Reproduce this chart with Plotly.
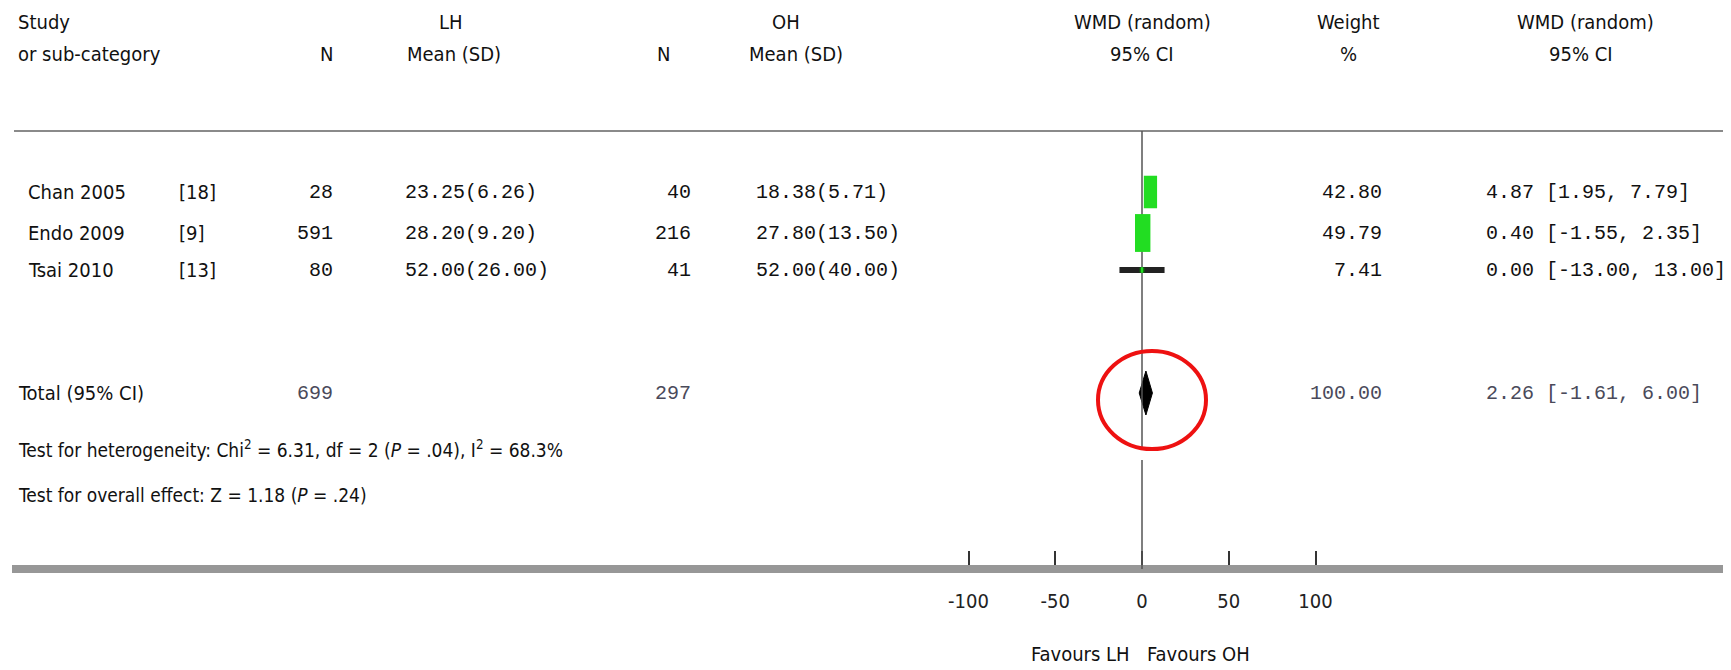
import plotly.graph_objects as go

# ---------------- data ----------------
studies = ["Chan 2005", "Endo 2009", "Tsai 2010"]
refs = ["[18]", "[9]", "[13]"]
lh_n = [28, 591, 80]
lh_mean_sd = ["23.25(6.26)", "28.20(9.20)", "52.00(26.00)"]
oh_n = [40, 216, 41]
oh_mean_sd = ["18.38(5.71)", "27.80(13.50)", "52.00(40.00)"]
wmd = [4.87, 0.40, 0.00]
ci_low = [1.95, -1.55, -13.00]
ci_high = [7.79, 2.35, 13.00]
weights = [42.80, 49.79, 7.41]
total_lh_n = 699
total_oh_n = 297
total_wmd = 2.26
total_low = -1.61
total_high = 6.00
total_weight = 100.00
tick_vals = [-100, -50, 0, 50, 100]
tick_text = ["-100", "-50", "0", "50", "100"]

# ---------------- layout helpers ----------------
W, H = 1731, 670
PX0 = 1134.0      # pixel of WMD = 0
PXU = 1.735       # pixels per WMD unit
D0 = 4.0          # axis domain start pixel
xr = [(D0 - PX0) / PXU, (W - PX0) / PXU]

row_y = [184, 225, 262]
total_y = 385
axis_y = 561

NARROW = "Liberation Sans Narrow, Arial Narrow, DejaVu Sans Condensed, Liberation Sans, sans-serif"
MONO = "Liberation Mono, DejaVu Sans Mono, monospace"
TXT = "#111111"
GREY = "#4a4a5a"

fig = go.Figure()
ann = []
shapes = []


def txt(x, y, s, anchor="left", font=NARROW, size=20, color=TXT):
    ann.append(dict(x=x / W, y=y, xref="paper", yref="y", text=s, showarrow=False,
                    xanchor=anchor, yanchor="middle",
                    font=dict(family=font, size=size, color=color)))


# headers
HY1, HY2 = 14, 46
txt(8, HY1, "Study")
txt(8, HY2, "or sub-category")
txt(443, HY1, "LH", "center")
txt(318, HY2, "N", "center")
txt(446, HY2, "Mean (SD)", "center")
txt(778, HY1, "OH", "center")
txt(655, HY2, "N", "center")
txt(788, HY2, "Mean (SD)", "center")
txt(1134, HY1, "WMD (random)", "center")
txt(1134, HY2, "95% CI", "center")
txt(1340, HY1, "Weight", "center")
txt(1340, HY2, "%", "center")
txt(1577, HY1, "WMD (random)", "center")
txt(1573, HY2, "95% CI", "center")

# header rule
shapes.append(dict(type="line", xref="paper", yref="y", x0=6 / W, x1=1, y0=123, y1=123,
                   line=dict(color="#8a8a8a", width=2)))

# study rows
for i in range(len(studies)):
    y = row_y[i]
    txt(18, y, studies[i])
    txt(169, y, refs[i])
    txt(327, y, str(lh_n[i]), "right", MONO)
    txt(395, y, lh_mean_sd[i], "left", MONO)
    txt(685, y, str(oh_n[i]), "right", MONO)
    txt(746, y, oh_mean_sd[i], "left", MONO)
    txt(1376, y, f"{weights[i]:.2f}", "right", MONO)
    txt(1476, y, f"{wmd[i]:.2f} [{ci_low[i]:.2f}, {ci_high[i]:.2f}]", "left", MONO)

# total rows
txt(8, total_y, "Total (95% CI)")
txt(327, total_y, str(total_lh_n), "right", MONO, color=GREY)
txt(685, total_y, str(total_oh_n), "right", MONO, color=GREY)
txt(1376, total_y, f"{total_weight:.2f}", "right", MONO, color=GREY)
txt(1476, total_y, f"{total_wmd:.2f} [{total_low:.2f}, {total_high:.2f}]", "left", MONO, color=GREY)
txt(8, 441, "Test for heterogeneity: Chi<sup>2</sup> = 6.31, df = 2 (<i>P</i> = .04), I<sup>2</sup> = 68.3%", size=19)
txt(8, 487, "Test for overall effect: Z = 1.18 (<i>P</i> = .24)", size=19)

# vertical line of no effect
shapes.append(dict(type="line", xref="x", yref="y", x0=0, x1=0, y0=123, y1=441,
                   line=dict(color="#555555", width=1.5)))
shapes.append(dict(type="line", xref="x", yref="y", x0=0, x1=0, y0=452, y1=axis_y,
                   line=dict(color="#555555", width=1.5)))

# CIs
fig.add_trace(go.Scatter(
    x=[v for i in range(3) for v in (ci_low[i], ci_high[i], None)],
    y=[v for i in range(3) for v in (row_y[i], row_y[i], None)],
    mode="lines", line=dict(color="#222222", width=6), hoverinfo="skip", showlegend=False))

# boxes sized by weight
for i in range(3):
    half_w = weights[i] * 0.155 / PXU
    half_h = weights[i] * 0.38
    shapes.append(dict(type="rect", xref="x", yref="y",
                       x0=wmd[i] - half_w, x1=wmd[i] + half_w,
                       y0=row_y[i] - half_h, y1=row_y[i] + half_h,
                       fillcolor="#22dd22", line=dict(width=0), layer="above"))
fig.add_trace(go.Scatter(x=wmd, y=row_y, mode="markers",
                         marker=dict(symbol="square", size=5, color="#0a6a0a"),
                         hoverinfo="skip", showlegend=False))

# pooled diamond
dh = 22
fig.add_trace(go.Scatter(
    x=[total_low, total_wmd, total_high, total_wmd, total_low],
    y=[total_y, total_y - dh, total_y, total_y + dh, total_y],
    mode="lines", fill="toself", fillcolor="#000000", line=dict(color="#000000", width=1),
    hoverinfo="skip", showlegend=False))

# red highlight ellipse
shapes.append(dict(type="circle", xref="paper", yref="y",
                   x0=1090 / W, x1=1198 / W, y0=343, y1=441,
                   line=dict(color="#ee1111", width=4)))

# favours labels
txt(1072, 646, "Favours LH", "center", size=20)
txt(1190, 646, "Favours OH", "center", size=20)

fig.update_layout(
    width=W, height=H, margin=dict(l=0, r=0, t=0, b=0),
    paper_bgcolor="white", plot_bgcolor="white",
    showlegend=False, annotations=ann, shapes=shapes,
    xaxis=dict(domain=[D0 / W, 1], range=xr, anchor="free", position=(H - axis_y) / H,
               showgrid=False, zeroline=False, showline=True, linecolor="#979797", linewidth=8,
               tickmode="array", tickvals=tick_vals, ticktext=tick_text,
               ticks="inside", ticklen=14, tickwidth=2, tickcolor="#333333",
               ticklabelstandoff=11,
               tickfont=dict(family=NARROW, size=20, color="#222222")),
    yaxis=dict(domain=[0, 1], range=[H, 0], visible=False),
)

fig.write_html("out.html")
